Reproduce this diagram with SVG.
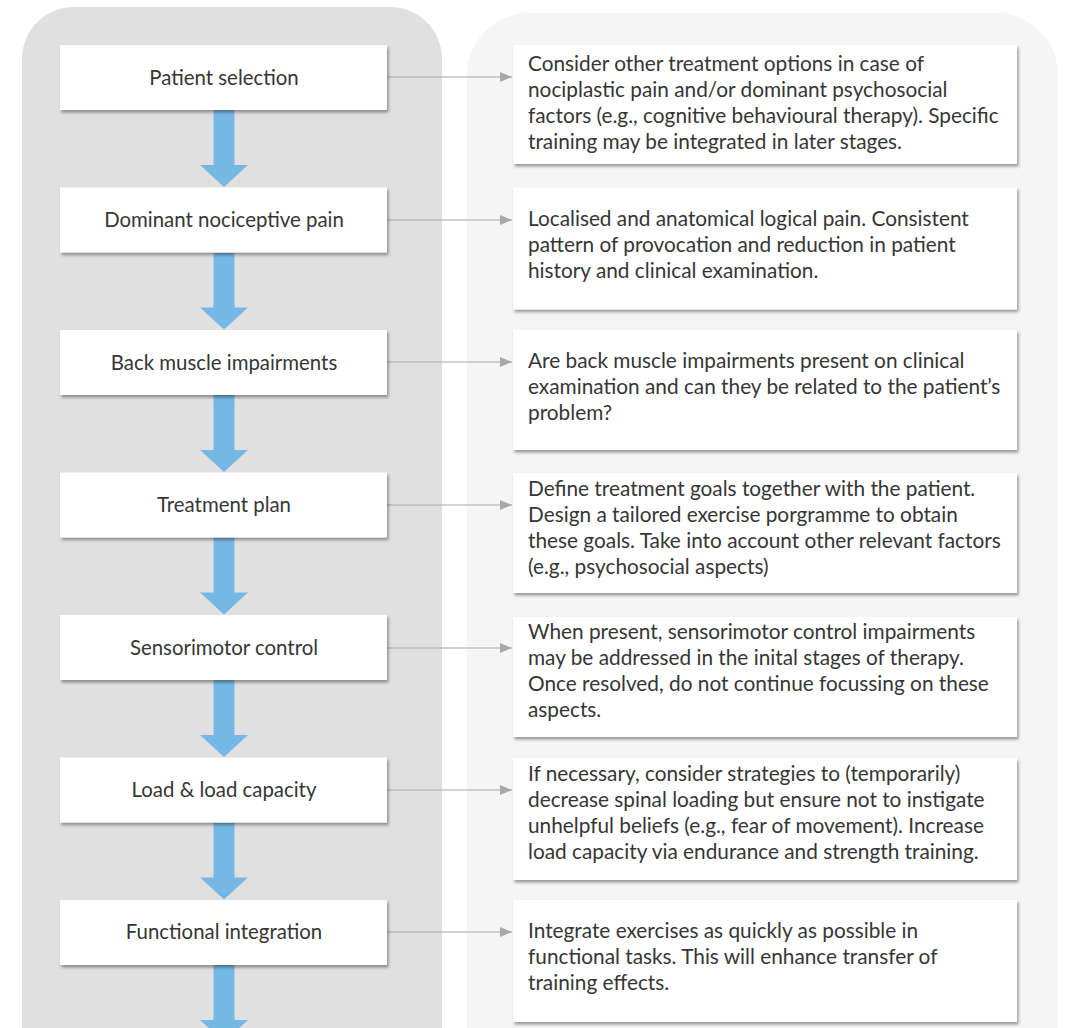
<svg xmlns="http://www.w3.org/2000/svg" width="1066" height="1028" viewBox="0 0 1066 1028">
<defs>
<filter id="sh" x="-5%" y="-10%" width="115%" height="130%">
<feDropShadow dx="1.5" dy="2.5" stdDeviation="1.6" flood-color="#000" flood-opacity="0.38"/>
</filter>
<marker id="ah" viewBox="0 0 12 10" refX="12" refY="5" markerWidth="12" markerHeight="10" markerUnits="userSpaceOnUse" orient="auto">
<path d="M0,0 L12,5 L0,10 Z" fill="#a8a8a8"/>
</marker>
<path id="blue" d="M-10.5,0 L10.5,0 L10.5,55 L24,55 L0,77 L-24,55 L-10.5,55 Z"/>
</defs>
<style>
.bg{fill:#ffffff}
.lp{fill:#e0e0e0}
.rp{fill:#f5f5f5}
.box{fill:#ffffff;filter:url(#sh)}
.t{font-family:Lato,"Open Sans","Liberation Sans",sans-serif;font-size:20.8px;fill:#363636}
.l{font-size:20.4px}
.c{text-anchor:middle}
.con{stroke:#a8a8a8;stroke-width:1.2;fill:none;marker-end:url(#ah)}
.ar{fill:#76b8e5}
</style>
<rect class="bg" x="0" y="0" width="1066" height="1028"/>
<rect class="lp" x="22" y="7" width="420" height="1120" rx="52"/>
<rect class="rp" x="467" y="13" width="591" height="1120" rx="62"/>

<g id="arrows">
<use href="#blue" class="ar" x="224" y="110"/>
<use href="#blue" class="ar" x="224" y="252.5"/>
<use href="#blue" class="ar" x="224" y="395"/>
<use href="#blue" class="ar" x="224" y="537.5"/>
<use href="#blue" class="ar" x="224" y="680"/>
<use href="#blue" class="ar" x="224" y="822.5"/>
<use href="#blue" class="ar" x="224" y="965"/>
</g>

<g id="connectors">
<line class="con" x1="387" y1="77" x2="512" y2="77"/>
<line class="con" x1="387" y1="220" x2="512" y2="220"/>
<line class="con" x1="387" y1="362" x2="512" y2="362"/>
<line class="con" x1="387" y1="505" x2="512" y2="505"/>
<line class="con" x1="387" y1="648" x2="512" y2="648"/>
<line class="con" x1="387" y1="790" x2="512" y2="790"/>
<line class="con" x1="387" y1="932" x2="512" y2="932"/>
</g>

<g id="n1">
<rect class="box" x="60" y="45" width="327" height="65"/>
<text class="t l c" x="224" y="85">Patient selection</text>
</g>
<g id="n2">
<rect class="box" x="60" y="187.5" width="327" height="65"/>
<text class="t l c" x="224" y="227">Dominant nociceptive pain</text>
</g>
<g id="n3">
<rect class="box" x="60" y="330" width="327" height="65"/>
<text class="t l c" x="224" y="370">Back muscle impairments</text>
</g>
<g id="n4">
<rect class="box" x="60" y="472.5" width="327" height="65"/>
<text class="t l c" x="224" y="512">Treatment plan</text>
</g>
<g id="n5">
<rect class="box" x="60" y="615" width="327" height="65"/>
<text class="t l c" x="224" y="655">Sensorimotor control</text>
</g>
<g id="n6">
<rect class="box" x="60" y="757.5" width="327" height="65"/>
<text class="t l c" x="224" y="797">Load &amp; load capacity</text>
</g>
<g id="n7">
<rect class="box" x="60" y="900" width="327" height="65"/>
<text class="t l c" x="224" y="939">Functional integration</text>
</g>

<g id="d1">
<rect class="box" x="513" y="45" width="504" height="119"/>
<text class="t" x="528" y="71">Consider other treatment options in case of</text>
<text class="t" x="528" y="97">nociplastic pain and/or dominant psychosocial</text>
<text class="t" x="528" y="123">factors (e.g., cognitive behavioural therapy). Specific</text>
<text class="t" x="528" y="149">training may be integrated in later stages.</text>
</g>
<g id="d2">
<rect class="box" x="513" y="187.5" width="504" height="122"/>
<text class="t" x="528" y="226">Localised and anatomical logical pain. Consistent</text>
<text class="t" x="528" y="252">pattern of provocation and reduction in patient</text>
<text class="t" x="528" y="278">history and clinical examination.</text>
</g>
<g id="d3">
<rect class="box" x="513" y="330" width="504" height="120"/>
<text class="t" x="528" y="368">Are back muscle impairments present on clinical</text>
<text class="t" x="528" y="394">examination and can they be related to the patient’s</text>
<text class="t" x="528" y="420">problem?</text>
</g>
<g id="d4">
<rect class="box" x="513" y="473" width="504" height="120"/>
<text class="t" x="528" y="496">Define treatment goals together with the patient.</text>
<text class="t" x="528" y="522">Design a tailored exercise porgramme to obtain</text>
<text class="t" x="528" y="548">these goals. Take into account other relevant factors</text>
<text class="t" x="528" y="574">(e.g., psychosocial aspects)</text>
</g>
<g id="d5">
<rect class="box" x="513" y="617" width="504" height="120"/>
<text class="t" x="528" y="639">When present, sensorimotor control impairments</text>
<text class="t" x="528" y="665">may be addressed in the inital stages of therapy.</text>
<text class="t" x="528" y="691">Once resolved, do not continue focussing on these</text>
<text class="t" x="528" y="717">aspects.</text>
</g>
<g id="d6">
<rect class="box" x="513" y="758" width="504" height="122"/>
<text class="t" x="528" y="781">If necessary, consider strategies to (temporarily)</text>
<text class="t" x="528" y="807">decrease spinal loading but ensure not to instigate</text>
<text class="t" x="528" y="833">unhelpful beliefs (e.g., fear of movement). Increase</text>
<text class="t" x="528" y="859">load capacity via endurance and strength training.</text>
</g>
<g id="d7">
<rect class="box" x="513" y="900" width="504" height="122"/>
<text class="t" x="528" y="938">Integrate exercises as quickly as possible in</text>
<text class="t" x="528" y="964">functional tasks. This will enhance transfer of</text>
<text class="t" x="528" y="990">training effects.</text>
</g>
</svg>
